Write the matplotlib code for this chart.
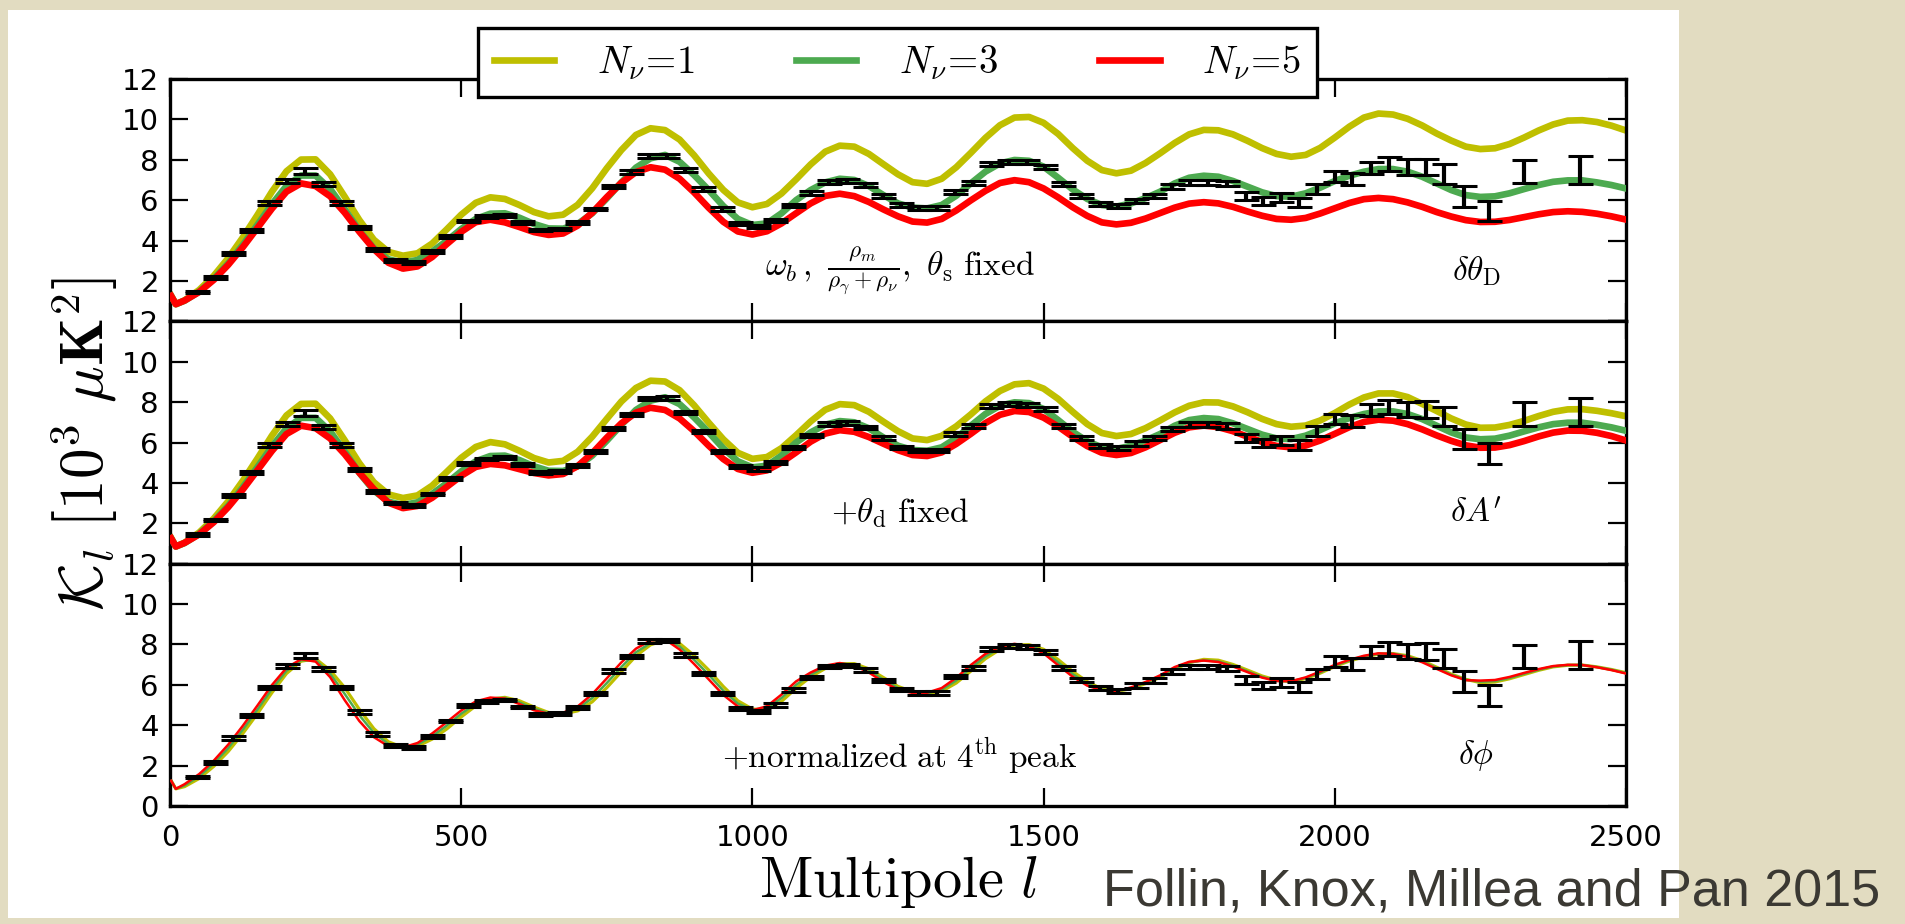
import numpy as np
import matplotlib
matplotlib.use("Agg")
import matplotlib.pyplot as plt
from matplotlib.patches import Rectangle

plt.rcParams['mathtext.fontset'] = 'cm'

# multipole grid of the model curves
ell = [2, 10] + list(range(25, 2501, 25))

# N_nu = 3 reference curve (same in all panels)
green = [1.25, 0.85,
         1.02, 1.47, 2.10, 2.87, 3.78, 4.77, 5.80, 6.70, 7.22, 7.22,
         6.55, 5.55, 4.50, 3.62, 3.07, 2.90, 3.04, 3.45, 3.98, 4.57,
         5.07, 5.33, 5.35, 5.13, 4.82, 4.60, 4.59, 4.82, 5.35, 6.09,
         6.88, 7.61, 8.07, 8.24, 7.90, 7.24, 6.50, 5.71, 5.07, 4.77,
         4.85, 5.35, 6.00, 6.50, 6.88, 7.06, 7.00, 6.70, 6.25, 5.84,
         5.63, 5.59, 5.76, 6.22, 6.83, 7.41, 7.82, 7.99, 7.95, 7.66,
         7.11, 6.53, 6.06, 5.76, 5.68, 5.84, 6.10, 6.42, 6.83, 7.11,
         7.21, 7.16, 6.95, 6.67, 6.39, 6.20, 6.17, 6.34, 6.62, 6.95,
         7.21, 7.41, 7.54, 7.54, 7.41, 7.16, 6.83, 6.50, 6.25, 6.16,
         6.19, 6.34, 6.55, 6.75, 6.91, 6.98, 6.98, 6.88, 6.75, 6.58]

# panel 1: omega_b, rho ratio, theta_s fixed
yellow1 = [1.27, 0.85,
           1.04, 1.55, 2.25, 3.13, 4.15, 5.26, 6.42, 7.43, 8.01, 8.02,
           7.28, 6.17, 5.02, 4.04, 3.44, 3.25, 3.37, 3.85, 4.55, 5.28,
           5.87, 6.14, 6.06, 5.76, 5.41, 5.20, 5.28, 5.77, 6.59, 7.58,
           8.48, 9.23, 9.56, 9.47, 9.00, 8.22, 7.32, 6.51, 5.89, 5.65,
           5.81, 6.33, 7.03, 7.77, 8.40, 8.70, 8.65, 8.29, 7.78, 7.28,
           6.89, 6.81, 7.06, 7.63, 8.34, 9.08, 9.71, 10.09, 10.12, 9.83,
           9.28, 8.58, 7.95, 7.49, 7.33, 7.46, 7.84, 8.32, 8.83, 9.26,
           9.48, 9.46, 9.26, 8.94, 8.58, 8.29, 8.15, 8.24, 8.59, 9.10,
           9.64, 10.09, 10.29, 10.24, 10.03, 9.70, 9.30, 8.95, 8.65, 8.53,
           8.57, 8.78, 9.10, 9.45, 9.75, 9.94, 9.96, 9.87, 9.69, 9.45]
red1 = [1.25, 0.85,
        1.03, 1.45, 2.05, 2.80, 3.67, 4.62, 5.58, 6.42, 6.83, 6.70,
        6.19, 5.38, 4.44, 3.58, 2.90, 2.61, 2.72, 3.18, 3.82, 4.43,
        4.91, 5.03, 4.90, 4.67, 4.42, 4.28, 4.35, 4.74, 5.38, 6.15,
        6.86, 7.39, 7.63, 7.51, 7.06, 6.38, 5.62, 4.93, 4.45, 4.30,
        4.46, 4.85, 5.35, 5.84, 6.21, 6.32, 6.20, 5.91, 5.54, 5.20,
        4.94, 4.89, 5.07, 5.49, 5.99, 6.46, 6.85, 6.99, 6.89, 6.58,
        6.14, 5.65, 5.22, 4.90, 4.80, 4.88, 5.09, 5.36, 5.63, 5.83,
        5.90, 5.84, 5.67, 5.44, 5.23, 5.07, 5.03, 5.12, 5.34, 5.60,
        5.86, 6.05, 6.11, 6.05, 5.89, 5.67, 5.41, 5.19, 5.01, 4.92,
        4.93, 5.02, 5.16, 5.30, 5.41, 5.45, 5.42, 5.33, 5.20, 5.04]

# panel 2: + theta_d fixed
yellow2 = [1.27, 0.85,
           1.04, 1.54, 2.23, 3.09, 4.10, 5.20, 6.34, 7.34, 7.91, 7.92,
           7.19, 6.11, 4.98, 4.03, 3.43, 3.25, 3.38, 3.86, 4.54, 5.24,
           5.78, 6.02, 5.91, 5.59, 5.23, 5.01, 5.09, 5.54, 6.29, 7.17,
           8.03, 8.70, 9.06, 9.02, 8.59, 7.84, 6.98, 6.16, 5.49, 5.19,
           5.28, 5.72, 6.36, 7.04, 7.62, 7.90, 7.85, 7.52, 7.03, 6.56,
           6.20, 6.12, 6.33, 6.80, 7.39, 8.03, 8.55, 8.88, 8.94, 8.67,
           8.16, 7.52, 6.91, 6.47, 6.32, 6.42, 6.71, 7.09, 7.49, 7.82,
           7.99, 7.98, 7.79, 7.50, 7.17, 6.91, 6.78, 6.84, 7.09, 7.46,
           7.88, 8.23, 8.43, 8.43, 8.25, 7.91, 7.56, 7.19, 6.89, 6.73,
           6.74, 6.87, 7.07, 7.31, 7.52, 7.64, 7.65, 7.57, 7.45, 7.30]
red2 = [1.25, 0.85,
        1.03, 1.45, 2.05, 2.80, 3.67, 4.62, 5.58, 6.42, 6.83, 6.71,
        6.20, 5.42, 4.51, 3.69, 3.02, 2.75, 2.86, 3.26, 3.80, 4.35,
        4.79, 4.94, 4.87, 4.68, 4.49, 4.37, 4.44, 4.83, 5.47, 6.24,
        6.95, 7.48, 7.72, 7.61, 7.19, 6.56, 5.84, 5.18, 4.69, 4.50,
        4.62, 5.01, 5.51, 6.04, 6.44, 6.61, 6.53, 6.27, 5.94, 5.62,
        5.38, 5.33, 5.51, 5.93, 6.43, 6.96, 7.37, 7.56, 7.51, 7.23,
        6.79, 6.28, 5.82, 5.49, 5.38, 5.48, 5.76, 6.12, 6.48, 6.75,
        6.84, 6.76, 6.56, 6.29, 6.03, 5.83, 5.76, 5.85, 6.10, 6.43,
        6.76, 7.02, 7.13, 7.08, 6.91, 6.65, 6.35, 6.08, 5.86, 5.74,
        5.75, 5.87, 6.07, 6.30, 6.49, 6.59, 6.58, 6.48, 6.32, 6.10]

# panel 3: + normalized at 4th peak
yellow3 = [1.25, 0.85,
           0.96, 1.36, 1.96, 2.70, 3.59, 4.57, 5.61, 6.56, 7.17, 7.29,
           6.72, 5.86, 4.79, 3.83, 3.18, 2.90, 2.96, 3.31, 3.81, 4.41,
           4.96, 5.29, 5.38, 5.21, 4.90, 4.63, 4.56, 4.71, 5.16, 5.86,
           6.65, 7.43, 7.98, 8.22, 8.05, 7.45, 6.73, 5.92, 5.21, 4.80,
           4.76, 5.18, 5.83, 6.39, 6.81, 7.04, 7.05, 6.79, 6.36, 5.92,
           5.66, 5.57, 5.68, 6.09, 6.68, 7.29, 7.75, 7.97, 7.99, 7.76,
           7.25, 6.66, 6.16, 5.79, 5.67, 5.81, 6.06, 6.37, 6.78, 7.10,
           7.26, 7.22, 7.01, 6.73, 6.44, 6.23, 6.16, 6.31, 6.58, 6.91,
           7.18, 7.38, 7.52, 7.55, 7.44, 7.20, 6.87, 6.53, 6.27, 6.11,
           6.14, 6.30, 6.51, 6.72, 6.89, 6.97, 6.98, 6.89, 6.76, 6.60]
red3 = [1.25, 0.85,
        1.08, 1.58, 2.24, 3.04, 3.97, 4.97, 5.99, 6.84, 7.27, 7.15,
        6.38, 5.24, 4.21, 3.41, 2.96, 2.90, 3.12, 3.59, 4.15, 4.73,
        5.18, 5.37, 5.32, 5.05, 4.74, 4.57, 4.62, 4.93, 5.54, 6.32,
        7.11, 7.79, 8.20, 8.25, 7.75, 7.03, 6.27, 5.50, 4.93, 4.74,
        4.94, 5.52, 6.17, 6.61, 6.95, 7.08, 6.95, 6.61, 6.14, 5.76,
        5.60, 5.61, 5.84, 6.35, 6.98, 7.53, 7.89, 8.03, 7.91, 7.56,
        6.97, 6.40, 5.96, 5.73, 5.69, 5.87, 6.14, 6.47, 6.88, 7.14,
        7.20, 7.13, 6.91, 6.63, 6.36, 6.19, 6.18, 6.37, 6.66, 6.99,
        7.24, 7.44, 7.56, 7.53, 7.38, 7.12, 6.79, 6.47, 6.23, 6.21,
        6.24, 6.39, 6.59, 6.78, 6.93, 6.99, 6.98, 6.87, 6.73, 6.56]

# binned data points
data_l = [46, 77, 108, 139, 170, 201, 232, 263, 294, 325,
          356, 387, 418, 450, 481, 512, 543, 574, 605, 636,
          668, 699, 730, 760, 791, 822, 854, 885, 916, 947,
          978, 1009, 1039, 1070, 1101, 1132, 1163, 1194, 1225, 1255,
          1286, 1317, 1348, 1379, 1410, 1441, 1471, 1503, 1534, 1565,
          1596, 1627, 1658, 1689, 1720, 1752, 1783, 1815, 1847, 1877,
          1908, 1939, 1969, 2000, 2030, 2062, 2093, 2125, 2157, 2188,
          2221, 2264, 2325, 2421]
data_k = [1.45, 2.16, 3.37, 4.50, 5.87, 6.93, 7.46, 6.78, 5.87, 4.65,
          3.56, 3.00, 2.90, 3.45, 4.21, 4.97, 5.18, 5.25, 4.90, 4.52,
          4.57, 4.88, 5.56, 6.68, 7.39, 8.18, 8.20, 7.49, 6.55, 5.56,
          4.83, 4.69, 5.00, 5.74, 6.35, 6.91, 6.95, 6.75, 6.22, 5.76,
          5.61, 5.61, 6.42, 6.83, 7.79, 7.90, 7.87, 7.64, 6.82, 6.22,
          5.83, 5.71, 5.96, 6.22, 6.67, 6.88, 6.88, 6.82, 6.22, 5.97,
          6.12, 5.89, 6.55, 7.16, 7.05, 7.61, 7.77, 7.64, 7.64, 7.29,
          6.17, 5.46, 7.41, 7.49]
data_err = [0.06, 0.07, 0.08, 0.08, 0.09, 0.10, 0.14, 0.10, 0.09, 0.08,
            0.08, 0.07, 0.07, 0.07, 0.07, 0.07, 0.07, 0.07, 0.07, 0.07,
            0.07, 0.07, 0.07, 0.08, 0.08, 0.09, 0.09, 0.09, 0.08, 0.08,
            0.08, 0.08, 0.08, 0.08, 0.08, 0.09, 0.09, 0.09, 0.09, 0.09,
            0.09, 0.09, 0.09, 0.10, 0.10, 0.10, 0.10, 0.10, 0.10, 0.10,
            0.10, 0.10, 0.11, 0.11, 0.12, 0.12, 0.12, 0.13, 0.20, 0.19,
            0.22, 0.24, 0.25, 0.26, 0.30, 0.30, 0.35, 0.38, 0.41, 0.48,
            0.51, 0.51, 0.58, 0.69]

labels = [r'$N_\nu\!=\!1$', r'$N_\nu\!=\!3$', r'$N_\nu\!=\!5$']
colors = ['#bfbf00', '#4daa50', '#ff0000']
notes_left = [r'$\omega_b\,,\ \frac{\rho_m}{\rho_\gamma+\rho_\nu},\ \theta_\mathrm{s}\ \mathrm{fixed}$',
              r'$+\theta_\mathrm{d}\ \mathrm{fixed}$',
              r'$+\mathrm{normalized\ at\ 4^{th}\ peak}$']
notes_right = [r'$\delta\theta_\mathrm{D}$', r"$\delta A'$", r'$\delta\phi$']

panels = [(yellow1, green, red1, 4.8),
          (yellow2, green, red2, 4.8),
          (yellow3, green, red3, 1.8)]

W, H = 1906, 924
fig = plt.figure(figsize=(W / 100, H / 100), dpi=100)
fig.patch.set_facecolor('#e2dcc1')
fig.add_artist(Rectangle((8 / W, 6 / H), (1679 - 8) / W, (924 - 16) / H,
                         transform=fig.transFigure, facecolor='white',
                         edgecolor='none', zorder=0))

left, width = 170 / W, (1626 - 170) / W
ph = (806 - 79) / 3 / H
bottom0 = 1 - 806 / H

for i, (ys, gs, rs, lw) in enumerate(panels):
    ax = fig.add_axes([left, bottom0 + (2 - i) * ph, width, ph])
    hy, = ax.plot(ell, ys, color=colors[0], lw=lw + (0.5 if i == 2 else 0), zorder=2)
    hg, = ax.plot(ell, gs, color=colors[1], lw=lw, zorder=3)
    hr, = ax.plot(ell, rs, color=colors[2], lw=lw, zorder=4)
    ax.errorbar(data_l, data_k, yerr=data_err, fmt='none', ecolor='black',
                elinewidth=3.0, capsize=9, capthick=2.2, zorder=5)
    ax.text(1253, 2.5, notes_left[i], fontsize=24, ha='center', va='center')
    ax.text(2243, 2.5, notes_right[i], fontsize=24, ha='center', va='center')
    ax.set_xlim(0, 2500)
    ax.set_ylim(0, 12)
    ax.set_xticks([0, 500, 1000, 1500, 2000, 2500])
    ax.set_yticks([0, 2, 4, 6, 8, 10, 12])
    ax.tick_params(direction='in', length=13, width=1.6, top=True, right=True,
                   labelsize=21)
    ax.tick_params(axis='y', pad=8)
    ax.tick_params(axis='x', pad=13)
    for s in ax.spines.values():
        s.set_linewidth(2.4)
    if i < 2:
        ax.set_xticklabels([])
        ax.set_yticklabels(['', '2', '4', '6', '8', '10', '12'])
    if i == 0:
        handles = [hy, hg, hr]

leg = fig.legend(handles, labels, loc='center', bbox_to_anchor=(897.5 / W, 1 - 62.5 / H),
                 ncol=3, fontsize=28, frameon=True, fancybox=False, edgecolor='black',
                 framealpha=1, handlelength=1.55, handletextpad=1.1,
                 columnspacing=2.6, borderpad=0.4)
leg.get_frame().set_linewidth(2.4)
leg.set_zorder(10)

fig.text(85 / W, 1 - 444 / H,
         r'$\mathcal{K}_l\ \left[\mathbf{10}^{\mathbf{3}}\ \mu\mathbf{K}^{2}\right]$',
         rotation=90, fontsize=44, ha='center', va='center')
fig.text(898 / W, 1 - 881 / H, r'$\mathrm{Multipole}\ l$', fontsize=42,
         ha='center', va='center')
fig.text(1103 / W, 1 - 906 / H, 'Follin, Knox, Millea and Pan 2015',
         family='Liberation Sans', fontsize=37.5, color='#3b3933',
         ha='left', va='baseline')

fig.savefig('out.png', dpi=100, facecolor=fig.get_facecolor())
